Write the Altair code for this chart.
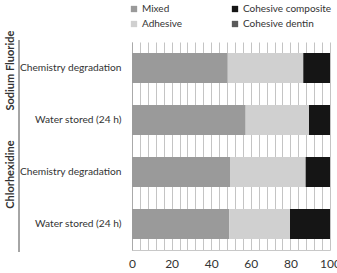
import altair as alt
import pandas as pd

groups = ["Sodium Fluoride", "Sodium Fluoride", "Chlorhexidine", "Chlorhexidine"]
conditions = ["Chemistry degradation", "Water stored (24 h)", "Chemistry degradation", "Water stored (24 h)"]
series = ["Mixed", "Adhesive", "Cohesive composite", "Cohesive dentin"]
mixed = [48.3, 57.4, 49.5, 49.1]
adhesive = [38.2, 32.0, 38.2, 30.7]
composite = [13.5, 10.6, 12.3, 20.2]
dentin = [0, 0, 0, 0]

vals = {"Mixed": mixed, "Adhesive": adhesive, "Cohesive composite": composite, "Cohesive dentin": dentin}
rows = []
keys = []
for i in range(4):
    key = f"{groups[i]}|{conditions[i]}"
    keys.append(key)
    for j, s in enumerate(series):
        rows.append({"cat": key, "series": s, "value": vals[s][i], "ord": j})
df = pd.DataFrame(rows)

colors = ["#9a9a9a", "#d0d0d0", "#151515", "#5a5a5a"]

FONT = "Lato"

bars = alt.Chart(df).mark_bar(size=30).encode(
    x=alt.X("value:Q", stack="zero", scale=alt.Scale(domain=[0, 100], nice=False),
            axis=alt.Axis(values=list(range(0, 101, 4)), labelExpr="datum.value % 20 == 0 ? datum.label : ''",
                          title=None, ticks=False, grid=True, gridColor="#c4c4c4", gridWidth=1,
                          domain=True, domainColor="#c8c8c8", labelFontSize=12, labelColor="#333",
                          labelFont=FONT, labelPadding=8, labelFlush=False)),
    y=alt.Y("cat:N", sort=keys, scale=alt.Scale(domain=keys),
            axis=alt.Axis(title=None, ticks=False, labelExpr="split(datum.label, '|')[1]",
                          labelFontSize=10.2, labelColor="#333", labelFont=FONT, labelPadding=11,
                          domain=True, domainColor="#aaa", labelLimit=200)),
    color=alt.Color("series:N", scale=alt.Scale(domain=series, range=colors),
                    legend=alt.Legend(title=None, orient="none", legendX=-3, legendY=-38, columns=2,
                                      columnPadding=47, rowPadding=5, symbolType="square", symbolSize=40,
                                      symbolStrokeWidth=0, labelFontSize=10, labelColor="#333",
                                      labelFont=FONT, symbolOffset=0, labelOffset=3)),
    order=alt.Order("ord:Q"),
)

gdf = pd.DataFrame({"cat": [keys[0], keys[2]], "g": ["Sodium Fluoride", "Chlorhexidine"]})
gtext = alt.Chart(gdf).mark_text(angle=270, fontWeight="bold", fontSize=11, font=FONT, color="#333",
                                 baseline="middle", align="center").encode(
    y=alt.Y("cat:N", sort=keys), yOffset=alt.value(26), x=alt.value(-121), text="g:N")

rule = alt.Chart(gdf).mark_rule(color="#888", strokeWidth=1).encode(
    x=alt.value(-113), y=alt.value(-2), y2=alt.value(210))

chart = alt.layer(bars, gtext, rule).properties(
    width=198, height=208,
    autosize=alt.AutoSizeParams(type="none"),
    padding={"left": 132, "top": 42, "right": 7, "bottom": 23},
).configure_view(stroke=None)

chart.save("out.html", embed_options={"renderer": "svg", "actions": False})
